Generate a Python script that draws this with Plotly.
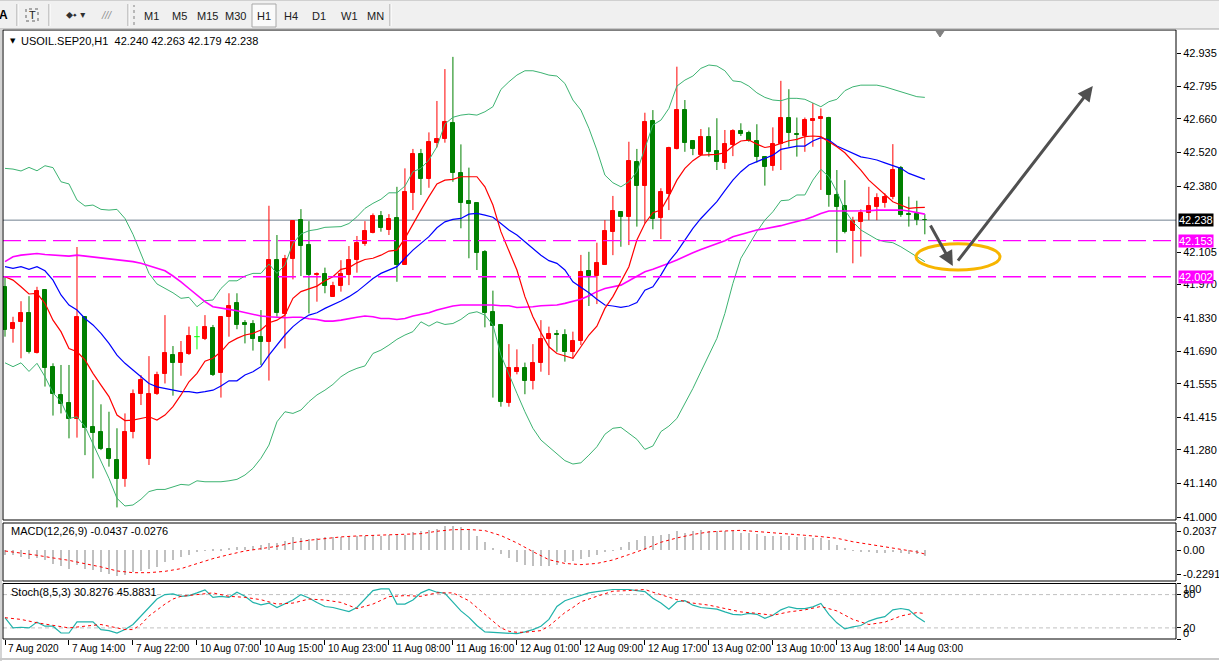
import plotly.graph_objects as go

# ---------------- data ----------------
x_tick_bars = [0, 8, 16, 24, 32, 40, 48, 56, 64, 72, 80, 88, 96, 104, 112]
x_tick_labels = ["7 Aug 2020", "7 Aug 14:00", "7 Aug 22:00", "10 Aug 07:00", "10 Aug 15:00",
                 "10 Aug 23:00", "11 Aug 08:00", "11 Aug 16:00", "12 Aug 01:00", "12 Aug 09:00",
                 "12 Aug 17:00", "13 Aug 02:00", "13 Aug 10:00", "13 Aug 18:00", "14 Aug 03:00"]

price_ticks = [41.000, 41.140, 41.280, 41.415, 41.555, 41.690, 41.830, 41.970, 42.105,
               42.380, 42.520, 42.660, 42.795, 42.935]

open_ = [41.960,41.782,41.814,41.849,41.685,41.947,41.624,41.509,41.474,41.409,
         41.835,41.375,41.354,41.282,41.238,41.157,41.353,41.511,41.240,41.511,
         41.595,41.676,41.641,41.680,41.752,41.742,41.787,41.599,41.835,41.891,
         41.810,41.805,41.749,41.731,42.072,41.847,42.074,42.238,42.134,42.009,
         42.012,41.919,41.965,42.009,42.072,42.140,42.183,42.255,42.197,42.245,
         42.051,42.352,42.514,42.411,42.558,42.576,42.642,42.433,42.317,42.311,
         42.106,41.853,41.801,41.477,41.606,41.620,41.569,41.641,41.741,41.763,
         41.759,41.689,41.734,42.026,42.005,42.051,42.190,42.273,42.252,42.479,
         42.382,42.651,42.248,42.347,42.533,42.697,42.568,42.509,42.583,42.526,
         42.478,42.551,42.610,42.600,42.568,42.500,42.465,42.554,42.665,42.597,
         42.590,42.653,42.660,42.665,42.342,42.297,42.193,42.231,42.269,42.294,
         42.311,42.333,42.457,42.263,42.263,42.240]
high = [42.002,41.835,41.900,41.921,41.960,41.947,41.641,41.634,41.634,42.126,
        41.835,41.571,41.470,41.439,41.370,41.432,41.532,41.592,41.671,41.606,
        41.842,41.713,41.734,41.794,41.796,41.842,41.801,41.838,41.933,41.933,
        41.821,41.821,41.863,42.298,42.176,42.093,42.238,42.284,42.234,42.020,
        42.040,41.981,42.071,42.130,42.172,42.234,42.266,42.276,42.263,42.377,
        42.454,42.535,42.535,42.604,42.735,42.868,42.919,42.554,42.457,42.312,
        42.113,41.944,41.805,41.721,41.699,41.644,41.721,41.821,41.794,41.780,
        41.783,41.773,42.093,42.106,42.144,42.238,42.339,42.276,42.565,42.535,
        42.686,42.697,42.371,42.544,42.878,42.739,42.568,42.618,42.625,42.663,
        42.614,42.617,42.642,42.611,42.638,42.503,42.625,42.819,42.784,42.666,
        42.666,42.726,42.704,42.669,42.447,42.405,42.252,42.283,42.377,42.350,
        42.350,42.555,42.464,42.336,42.319,42.263]
low = [41.752,41.727,41.662,41.682,41.682,41.544,41.423,41.432,41.328,41.331,
       41.258,41.161,41.279,41.210,41.040,41.126,41.328,41.467,41.217,41.509,
       41.557,41.506,41.589,41.676,41.699,41.738,41.588,41.498,41.752,41.783,
       41.724,41.694,41.634,41.569,41.835,41.703,41.991,42.005,41.849,41.898,
       41.933,41.919,41.940,41.967,42.019,42.131,42.183,42.190,42.176,41.981,
       42.051,42.280,42.343,42.373,42.541,42.561,42.398,42.204,42.079,42.030,
       41.791,41.498,41.460,41.460,41.595,41.512,41.532,41.606,41.592,41.689,
       41.648,41.662,41.717,41.880,41.888,42.051,42.092,42.127,42.134,42.211,
       42.224,42.200,42.159,42.280,42.533,42.523,42.509,42.507,42.503,42.447,
       42.451,42.505,42.589,42.565,42.478,42.382,42.444,42.447,42.544,42.503,
       42.523,42.544,42.364,42.294,42.102,42.183,42.058,42.086,42.238,42.238,
       42.290,42.325,42.252,42.211,42.217,42.179]
close = [41.780,41.810,41.849,41.689,41.942,41.620,41.512,41.470,41.409,41.835,
         41.372,41.349,41.282,41.240,41.160,41.354,41.513,41.571,41.513,41.592,
         41.683,41.641,41.683,41.755,41.752,41.791,41.592,41.835,41.881,41.801,
         41.801,41.741,41.731,42.072,41.852,42.076,42.234,42.131,42.009,42.012,
         41.965,41.963,42.012,42.072,42.144,42.193,42.255,42.204,42.241,42.051,
         42.354,42.514,42.411,42.562,42.576,42.649,42.433,42.311,42.304,42.099,
         41.852,41.798,41.481,41.620,41.620,41.569,41.641,41.741,41.762,41.759,
         41.689,41.734,42.020,42.005,42.061,42.193,42.276,42.252,42.485,42.382,
         42.649,42.241,42.354,42.540,42.697,42.561,42.533,42.583,42.523,42.482,
         42.554,42.610,42.597,42.569,42.502,42.461,42.554,42.665,42.603,42.593,
         42.656,42.660,42.669,42.342,42.294,42.187,42.234,42.269,42.298,42.330,
         42.336,42.447,42.260,42.259,42.240,42.238]

ma_fast = [42.002,41.988,41.960,41.930,41.933,41.891,41.821,41.773,41.703,41.689,
           41.655,41.599,41.550,41.502,41.425,41.402,41.404,41.411,41.418,41.404,
           41.425,41.460,41.509,41.564,41.599,41.650,41.662,41.689,41.727,41.745,
           41.759,41.766,41.780,41.810,41.821,41.842,41.912,41.940,41.953,
           41.963,41.985,42.002,42.033,42.040,42.060,42.074,42.079,42.092,42.109,
           42.113,42.162,42.224,42.280,42.336,42.389,42.405,42.408,42.419,42.419,
           42.419,42.377,42.301,42.190,42.106,42.030,41.919,41.835,41.769,41.710,
           41.682,41.671,41.662,41.710,41.759,41.796,41.870,41.919,41.981,
           42.044,42.155,42.224,42.269,42.280,42.338,42.405,42.454,42.486,42.509,
           42.512,42.512,42.519,42.547,42.568,42.572,42.555,42.541,42.547,
           42.558,42.569,42.575,42.586,42.589,42.586,42.565,42.544,42.519,42.482,
           42.447,42.405,42.375,42.347,42.315,42.301,42.287,42.290,42.291]
ma_mid = [42.044,42.037,42.044,42.033,42.044,42.027,41.988,41.926,41.884,41.863,
          41.828,41.801,41.766,41.724,41.675,41.641,41.613,41.585,41.557,41.543,
          41.536,41.527,41.523,41.523,41.518,41.523,41.529,41.546,41.568,41.568,
          41.592,41.606,41.627,41.675,41.717,41.759,41.794,41.821,41.842,
          41.852,41.870,41.884,41.901,41.919,41.940,41.967,41.995,42.016,42.030,
          42.044,42.079,42.113,42.141,42.169,42.206,42.231,42.241,42.245,42.263,
          42.266,42.259,42.250,42.224,42.197,42.176,42.148,42.120,42.092,42.069,
          42.058,42.030,41.981,41.958,41.935,41.908,41.884,41.880,41.874,
          41.880,41.894,41.946,41.960,42.009,42.065,42.106,42.155,42.204,42.245,
          42.280,42.315,42.361,42.405,42.440,42.468,42.482,42.496,42.509,
          42.533,42.541,42.547,42.547,42.568,42.582,42.572,42.547,42.533,42.516,
          42.502,42.496,42.489,42.477,42.464,42.454,42.433,42.419,42.408]
ma_slow = [42.065,42.085,42.092,42.097,42.099,42.095,42.092,42.088,42.088,42.092,
           42.088,42.085,42.083,42.076,42.072,42.069,42.065,42.058,42.048,42.037,
           42.027,42.005,41.981,41.953,41.926,41.898,41.877,41.873,41.866,41.860,
           41.852,41.846,41.838,41.835,41.833,41.831,41.833,41.833,41.827,
           41.824,41.817,41.817,41.821,41.828,41.833,41.838,41.835,41.828,41.828,
           41.824,41.828,41.838,41.845,41.852,41.863,41.873,41.880,41.884,41.884,
           41.887,41.887,41.884,41.881,41.881,41.874,41.874,41.877,41.881,41.881,
           41.884,41.891,41.898,41.908,41.923,41.940,41.953,41.960,41.967,
           41.985,42.005,42.023,42.033,42.044,42.058,42.072,42.088,42.102,42.116,
           42.127,42.138,42.152,42.169,42.179,42.186,42.197,42.202,42.208,
           42.215,42.224,42.231,42.241,42.252,42.266,42.276,42.276,42.276,42.277,
           42.277,42.277,42.280,42.280,42.280,42.280,42.276,42.270,42.263]
bb_upper = [42.454,42.451,42.443,42.458,42.444,42.465,42.457,42.398,42.389,42.322,
            42.297,42.301,42.283,42.280,42.283,42.245,42.179,42.099,42.016,41.972,
            41.953,41.935,41.912,41.916,41.877,41.902,41.905,41.953,41.985,41.985,
            42.005,42.016,42.016,42.055,42.016,42.051,42.141,42.180,42.194,
            42.199,42.208,42.208,42.211,42.224,42.252,42.287,42.308,42.325,42.352,
            42.352,42.380,42.440,42.454,42.489,42.544,42.639,42.667,42.676,42.680,
            42.676,42.690,42.711,42.783,42.815,42.843,42.861,42.861,42.853,42.843,
            42.839,42.808,42.739,42.697,42.621,42.530,42.426,42.394,42.377,
            42.398,42.440,42.537,42.635,42.655,42.704,42.797,42.822,42.839,42.871,
            42.885,42.881,42.861,42.819,42.815,42.797,42.769,42.750,42.739,
            42.736,42.746,42.746,42.742,42.728,42.711,42.732,42.742,42.778,42.794,
            42.801,42.801,42.801,42.794,42.783,42.774,42.762,42.753,42.750]
bb_lower = [41.643,41.627,41.643,41.607,41.641,41.585,41.518,41.481,41.411,41.418,
            41.377,41.307,41.238,41.161,41.078,41.046,41.050,41.074,41.106,41.115,
            41.115,41.126,41.136,41.133,41.151,41.147,41.147,41.147,41.151,41.157,
            41.175,41.203,41.245,41.300,41.397,41.439,41.432,41.446,41.481,
            41.509,41.529,41.553,41.585,41.606,41.620,41.630,41.682,41.696,41.717,
            41.741,41.759,41.773,41.814,41.796,41.814,41.803,41.807,41.824,41.849,
            41.856,41.842,41.801,41.675,41.599,41.516,41.439,41.370,41.321,41.293,
            41.265,41.235,41.221,41.226,41.258,41.293,41.345,41.370,41.374,
            41.349,41.324,41.282,41.296,41.356,41.379,41.411,41.474,41.536,41.606,
            41.675,41.745,41.849,41.974,42.079,42.134,42.190,42.238,42.273,
            42.319,42.322,42.343,42.343,42.405,42.450,42.419,42.357,42.280,42.231,
            42.197,42.176,42.158,42.148,42.144,42.127,42.106,42.085,42.065]

macd_main = [-0.032,-0.037,-0.050,-0.062,-0.057,-0.075,-0.100,-0.117,-0.137,-0.112,
             -0.137,-0.149,-0.162,-0.174,-0.192,-0.182,-0.162,-0.157,-0.137,-0.124,
             -0.087,-0.075,-0.050,-0.037,-0.012,-0.002,0.007,0.012,0.017,0.025,
             0.025,0.030,0.037,0.057,0.057,0.067,0.100,0.092,0.087,0.092,
             0.100,0.100,0.100,0.100,0.107,0.107,0.117,0.107,0.112,0.112,
             0.117,0.137,0.142,0.149,0.162,0.182,0.182,0.174,0.150,
             0.104,0.060,0.017,-0.025,-0.057,-0.090,-0.107,-0.119,-0.119,-0.114,
             -0.107,-0.090,-0.082,-0.065,-0.050,-0.032,-0.015,-0.002,0.025,0.060,
             0.080,0.104,0.104,0.117,0.124,0.142,0.129,0.142,0.154,0.142,
             0.142,0.142,0.142,0.129,0.129,0.124,0.104,0.104,0.104,0.104,
             0.100,0.100,0.092,0.092,0.075,0.042,0.017,0.002,-0.012,-0.015,
             -0.020,-0.020,-0.012,-0.020,-0.025,-0.025,-0.044]
macd_signal_x = [0,2,4,6,8,10,12,14,16,18,20,22,24,26,28,30,32,34,36,38,40,42,44,46,48,50,52,54,56,58,
                 60,62,64,66,68,70,72,74,76,78,80,82,84,86,88,90,92,94,96,98,100,102,104,106,108,110,112,114,115]
macd_signal = [-0.005,-0.020,-0.037,-0.057,-0.075,-0.100,-0.124,-0.154,-0.167,-0.167,
               -0.157,-0.137,-0.100,-0.062,-0.032,-0.005,0.012,0.030,0.057,0.075,
               0.087,0.100,0.107,0.112,0.112,0.117,0.124,0.142,0.154,0.155,
               0.147,0.110,0.055,-0.010,-0.070,-0.098,-0.107,-0.098,-0.072,-0.032,
               0.010,0.060,0.092,0.118,0.137,0.144,0.149,0.140,0.129,0.120,
               0.112,0.102,0.090,0.064,0.045,0.025,0.003,-0.012,-0.028]

stoch_main = [38.4,20,21.2,20,30.4,23.1,23.1,10.8,10.8,31,
              31,31,17,15.1,10.8,17,26.1,41.4,56.7,72,
              80,81.2,76.9,78.2,83.1,88.6,75.1,76.9,75.1,84.3,
              76.9,65.9,61.6,64.7,56.7,62.9,70.2,80,73.9,65.9,
              58.6,56.7,52.5,49.4,56.7,72,87.3,90.4,90.4,62.9,
              62.9,70.2,83.1,89.2,84.3,82.4,65.9,50.6,39,
              24.3,12.7,12.1,10.8,10.8,9.6,12.7,17,23.1,35.3,
              58.6,69,73.9,78.2,83.1,85.5,87.3,89.2,89.2,89.2,
              87.3,85.5,73.3,64.7,53.7,67.1,69,61,56.7,54.9,
              53.7,48.8,44.5,43.3,46.3,44.5,37.2,42.7,52.5,58,
              54.9,54.9,58,64.1,44.5,29.2,18.2,21.9,24.3,32.3,
              37.2,40.2,52.5,54.9,52.5,40.2,30.8]
stoch_signal_x = [0,2,4,6,8,10,12,14,15,16,17,18,19,20,21,22,24,26,28,30,32,34,36,38,40,42,44,46,48,50,52,54,56,58,
                  59,60,61,62,63,64,65,66,67,68,69,70,71,72,74,76,78,80,81,82,84,86,88,90,92,94,96,98,100,102,
                  104,106,108,110,112,114,115]
stoch_signal = [38.4,35.3,29.2,24.3,20,23.1,26.1,20,17,17,26.1,41.4,52.5,62.9,72,76.9,80,83.1,76.9,75.1,
                70.8,62.9,64.7,72,70.2,65.9,54.9,62.9,76.3,78.2,76.9,83.1,83.1,69,
                56.7,44.5,32.3,20,13.9,12.1,12.1,13.9,15.1,23.1,35.3,47.6,56.7,67.1,76.9,86.1,87.3,89.2,
                84.3,79.4,70.8,64.7,61,54.9,48.8,46.3,42.7,48.8,52.5,58.6,50.6,35.3,26.1,30.4,41.4,47.6,45.9]

level_lines = [42.153, 42.002]
last_price = 42.238
header = "USOIL.SEP20,H1  42.240 42.263 42.179 42.238"
macd_title = "MACD(12,26,9) -0.0437 -0.0276"
stoch_title = "Stoch(8,5,3) 30.8276 45.8831"
timeframes = ["M1", "M5", "M15", "M30", "H1", "H4", "D1", "W1", "MN"]

# ---------------- styling ----------------
FONT = "Liberation Sans, Arial, sans-serif"
BULL = "#ff0000"
BEAR = "#008000"
DOJI = "#00ff00"
W, H = 1219, 661
PL, PR, PT, PB = 3, 1176, 30, 639           # plot area in pixels


def px_x(px):
    return (px - PL) / (PR - PL)


def px_y(py):
    return (PB - py) / (PB - PT)


dom_main = [px_y(520), 1.0]
dom_macd = [px_y(581), px_y(523)]
dom_stoch = [0.0, px_y(583.5)]
main_range = [40.9875, 43.031]

fig = go.Figure()

n = len(close)
bars = list(range(n))
bull = [i for i in bars if close[i] > open_[i]]
bear = [i for i in bars if close[i] < open_[i]]
doji = [i for i in bars if close[i] == open_[i]]


def wicks(idx):
    wx, wy = [], []
    for i in idx:
        wx += [i, i, None]
        wy += [low[i], high[i], None]
    return wx, wy


for idx, col in ((bull, BULL), (bear, BEAR), (doji, DOJI)):
    wx, wy = wicks(idx)
    fig.add_trace(go.Scatter(x=wx, y=wy, mode="lines", line=dict(color=col, width=1),
                             hoverinfo="skip", xaxis="x", yaxis="y"))

for idx, col in ((bull, BULL), (bear, BEAR)):
    fig.add_trace(go.Bar(x=idx, y=[abs(close[i] - open_[i]) for i in idx],
                         base=[min(open_[i], close[i]) for i in idx], width=0.5,
                         marker=dict(color=col, line=dict(color=col, width=1)),
                         hoverinfo="skip", xaxis="x", yaxis="y"))
dx, dy = [], []
for i in doji:
    dx += [i - 0.35, i + 0.35, None]
    dy += [open_[i], open_[i], None]
fig.add_trace(go.Scatter(x=dx, y=dy, mode="lines", line=dict(color=DOJI, width=1),
                         hoverinfo="skip", xaxis="x", yaxis="y"))

for arr, col, w in ((bb_upper, "#3cb371", 1), (bb_lower, "#3cb371", 1),
                    (ma_slow, "#ff00ff", 1.6), (ma_mid, "#0000ff", 1.2), (ma_fast, "#ff0000", 1.2)):
    fig.add_trace(go.Scatter(x=list(range(len(arr))), y=arr, mode="lines",
                             line=dict(color=col, width=w), hoverinfo="skip", xaxis="x", yaxis="y"))

# MACD
fig.add_trace(go.Bar(x=list(range(len(macd_main))), y=macd_main, width=0.14,
                     marker=dict(color="#c0c0c0", line=dict(width=0)),
                     hoverinfo="skip", xaxis="x2", yaxis="y2"))
fig.add_trace(go.Scatter(x=macd_signal_x, y=macd_signal, mode="lines",
                         line=dict(color="#ff0000", width=1, dash="3px,3px"),
                         hoverinfo="skip", xaxis="x2", yaxis="y2"))

# Stochastic
fig.add_trace(go.Scatter(x=list(range(len(stoch_main))), y=stoch_main, mode="lines",
                         line=dict(color="#20b2aa", width=1.2), hoverinfo="skip", xaxis="x3", yaxis="y3"))
fig.add_trace(go.Scatter(x=stoch_signal_x, y=stoch_signal, mode="lines",
                         line=dict(color="#ff0000", width=1, dash="3px,3px"),
                         hoverinfo="skip", xaxis="x3", yaxis="y3"))

shapes = []
annotations = []

# level lines
for lv in (80, 20):
    shapes.append(dict(type="line", xref="x3 domain", yref="y3", x0=0, x1=1, y0=lv, y1=lv,
                       line=dict(color="#c0c0c0", width=1, dash="4px,3px"), layer="below"))
shapes.append(dict(type="line", xref="x domain", yref="y", x0=0, x1=1, y0=last_price, y1=last_price,
                   line=dict(color="#708090", width=1), layer="below"))
for lv in level_lines:
    shapes.append(dict(type="line", xref="x domain", yref="y", x0=0, x1=1, y0=lv, y1=lv,
                       line=dict(color="#ff00ff", width=1.3, dash="18px,7px"), layer="above"))

# panel frames
for d in (dom_main, dom_macd, dom_stoch):
    shapes.append(dict(type="rect", xref="paper", yref="paper", x0=0, x1=1, y0=d[0], y1=d[1],
                       line=dict(color="black", width=1), layer="above"))

# window chrome: toolbar
shapes.append(dict(type="rect", xref="paper", yref="paper", x0=px_x(-2), x1=px_x(W + 2),
                   y0=px_y(29), y1=px_y(-2), fillcolor="#f0f0f0", line=dict(width=0), layer="below"))
shapes.append(dict(type="line", xref="paper", yref="paper", x0=px_x(0), x1=px_x(W),
                   y0=px_y(29), y1=px_y(29), line=dict(color="#a0a0a0", width=1)))
shapes.append(dict(type="line", xref="paper", yref="paper", x0=px_x(0), x1=px_x(W),
                   y0=px_y(0.5), y1=px_y(0.5), line=dict(color="#d0d0d0", width=1)))
for sx in (17, 49, 128, 390):
    shapes.append(dict(type="line", xref="paper", yref="paper", x0=px_x(sx), x1=px_x(sx),
                       y0=px_y(26), y1=px_y(4), line=dict(color="#a0a0a0", width=1)))
    shapes.append(dict(type="line", xref="paper", yref="paper", x0=px_x(sx + 1), x1=px_x(sx + 1),
                       y0=px_y(26), y1=px_y(4), line=dict(color="#ffffff", width=1)))
shapes.append(dict(type="line", xref="paper", yref="paper", x0=px_x(134), x1=px_x(134),
                   y0=px_y(25), y1=px_y(5), line=dict(color="#808080", width=1, dash="dot")))
shapes.append(dict(type="rect", xref="paper", yref="paper", x0=px_x(26), x1=px_x(38),
                   y0=px_y(21), y1=px_y(9), line=dict(color="#606060", width=1, dash="dot")))
shapes.append(dict(type="rect", xref="paper", yref="paper", x0=px_x(252), x1=px_x(276),
                   y0=px_y(27), y1=px_y(4), fillcolor="#fafafa", line=dict(color="#a8a8a8", width=1)))
# left window edge and bottom edge
shapes.append(dict(type="rect", xref="paper", yref="paper", x0=px_x(-1), x1=px_x(2),
                   y0=px_y(661), y1=px_y(29), fillcolor="#d4d4d4", line=dict(width=0)))
shapes.append(dict(type="line", xref="paper", yref="paper", x0=px_x(0), x1=px_x(W),
                   y0=px_y(659), y1=px_y(659), line=dict(color="#c8c8c8", width=2)))
# chart shift marker
tx = [px_x(936), px_x(944), px_x(940)]
ty = [px_y(31), px_y(31), px_y(37)]
shapes.append(dict(type="path", xref="paper", yref="paper",
                   path=f"M {tx[0]},{ty[0]} L {tx[1]},{ty[1]} L {tx[2]},{ty[2]} Z",
                   fillcolor="#808080", line=dict(color="#808080", width=1)))

# analyst drawings: ellipse + arrows
shapes.append(dict(type="circle", xref="x", yref="y", x0=113.9, x1=124.4, y0=42.030, y1=42.140,
                   line=dict(color="#f7b500", width=3), layer="above"))
for (hx, hy, tx_, ty_) in ((118.5, 42.047, 115.6, 42.222), (136.0, 42.797, 119.0, 42.063)):
    annotations.append(dict(x=hx, y=hy, ax=tx_, ay=ty_, xref="x", yref="y", axref="x", ayref="y",
                            text="", showarrow=True, arrowhead=2, arrowsize=1, arrowwidth=3,
                            arrowcolor="#505050", standoff=0, startstandoff=0))

# axis side labels
annotations.append(dict(x=1, xref="paper", xanchor="left", xshift=2, y=last_price, yref="y",
                        yanchor="middle", text=f"{last_price:.3f}", showarrow=False, bgcolor="#000000",
                        font=dict(color="white", size=11, family=FONT), borderpad=0))
for lv in level_lines:
    annotations.append(dict(x=1, xref="paper", xanchor="left", xshift=2, y=lv, yref="y",
                            yanchor="middle", text=f"{lv:.3f}", showarrow=False, bgcolor="#ff00ff",
                            font=dict(color="white", size=11, family=FONT), borderpad=0))
for txt, py in (("0.2037", 531), ("-0.2291", 574), ("100", 589), ("0", 633)):
    annotations.append(dict(x=1, xref="paper", xanchor="left", xshift=5, y=px_y(py), yref="paper",
                            yanchor="middle", text=txt, showarrow=False,
                            font=dict(size=11, family=FONT, color="black")))

# panel titles
annotations.append(dict(x=px_x(8), y=px_y(41), xref="paper", yref="paper", text="▼", showarrow=False,
                        xanchor="left", yanchor="middle", font=dict(size=7, color="black", family="DejaVu Sans")))
for txt, px_, py in ((header, 19, 41), (macd_title, 9, 531), (stoch_title, 9, 592)):
    annotations.append(dict(x=px_x(px_), y=px_y(py), xref="paper", yref="paper", text=txt,
                            showarrow=False, xanchor="left", yanchor="middle",
                            font=dict(size=11, color="black", family=FONT)))

# x labels (left aligned at tick)
for b, lab in zip(x_tick_bars, x_tick_labels):
    annotations.append(dict(x=b, xref="x3", xanchor="left", xshift=1, y=px_y(648), yref="paper",
                            yanchor="middle", text=lab, showarrow=False,
                            font=dict(size=10, color="black", family=FONT)))

# toolbar text
tb = dict(xref="paper", yref="paper", showarrow=False, xanchor="center", yanchor="middle")
annotations.append(dict(x=px_x(3), y=px_y(15), text="<b>A</b>",
                        font=dict(size=12, color="black", family=FONT), **tb))
annotations.append(dict(x=px_x(32), y=px_y(15), text="T",
                        font=dict(size=11, color="#202020", family=FONT), **tb))
annotations.append(dict(x=px_x(75), y=px_y(15), text="⬥⬩ ▾",
                        font=dict(size=10, color="#303030", family="DejaVu Sans"), **tb))
annotations.append(dict(x=px_x(106), y=px_y(15), text="<i>///</i>",
                        font=dict(size=11, color="#909090", family=FONT), **tb))
tf_x = [151, 179, 207.5, 235, 264, 291, 319, 349, 375]
for t, cx in zip(timeframes, tf_x):
    annotations.append(dict(x=px_x(cx), y=px_y(16), text=t,
                            font=dict(size=11, color="#202020", family=FONT), **tb))

axis_common = dict(range=[-0.25, 146.4], showgrid=False, zeroline=False, showline=False,
                   showticklabels=False, domain=[0, 1])
fig.update_layout(
    width=W, height=H,
    margin=dict(l=PL, r=W - PR, t=PT, b=H - PB),
    paper_bgcolor="white", plot_bgcolor="white",
    showlegend=False, barmode="overlay", bargap=0,
    font=dict(family=FONT, size=11, color="black"),
    xaxis=dict(anchor="y", ticks="", **axis_common),
    xaxis2=dict(anchor="y2", matches="x", ticks="", **axis_common),
    xaxis3=dict(anchor="y3", matches="x", tickmode="array", tickvals=x_tick_bars, ticks="outside",
                ticklen=5, tickcolor="black", tickwidth=1, **axis_common),
    yaxis=dict(domain=dom_main, range=main_range, side="right", anchor="x",
               tickmode="array", tickvals=price_ticks, ticktext=[f"{v:.3f}" for v in price_ticks],
               ticks="outside", ticklen=4, tickcolor="black", showgrid=False, zeroline=False,
               tickfont=dict(size=11, family=FONT, color="black")),
    yaxis2=dict(domain=dom_macd, range=[-0.2291, 0.2037], side="right", anchor="x2",
                tickmode="array", tickvals=[0.144, 0.0, -0.177], ticktext=["", "0.00", ""],
                ticks="outside", ticklen=4, tickcolor="black", showgrid=False, zeroline=False,
                tickfont=dict(size=11, family=FONT, color="black")),
    yaxis3=dict(domain=dom_stoch, range=[0, 100], side="right", anchor="x3",
                tickmode="array", tickvals=[0, 20, 80, 100], ticktext=["", "20", "80", ""],
                ticks="outside", ticklen=4, tickcolor="black", showgrid=False, zeroline=False,
                tickfont=dict(size=11, family=FONT, color="black")),
    shapes=shapes, annotations=annotations,
    hovermode=False,
)

fig.write_html("out.html", config={"displayModeBar": False},
               post_script="document.body.style.margin='0px';document.body.style.overflow='hidden';")
